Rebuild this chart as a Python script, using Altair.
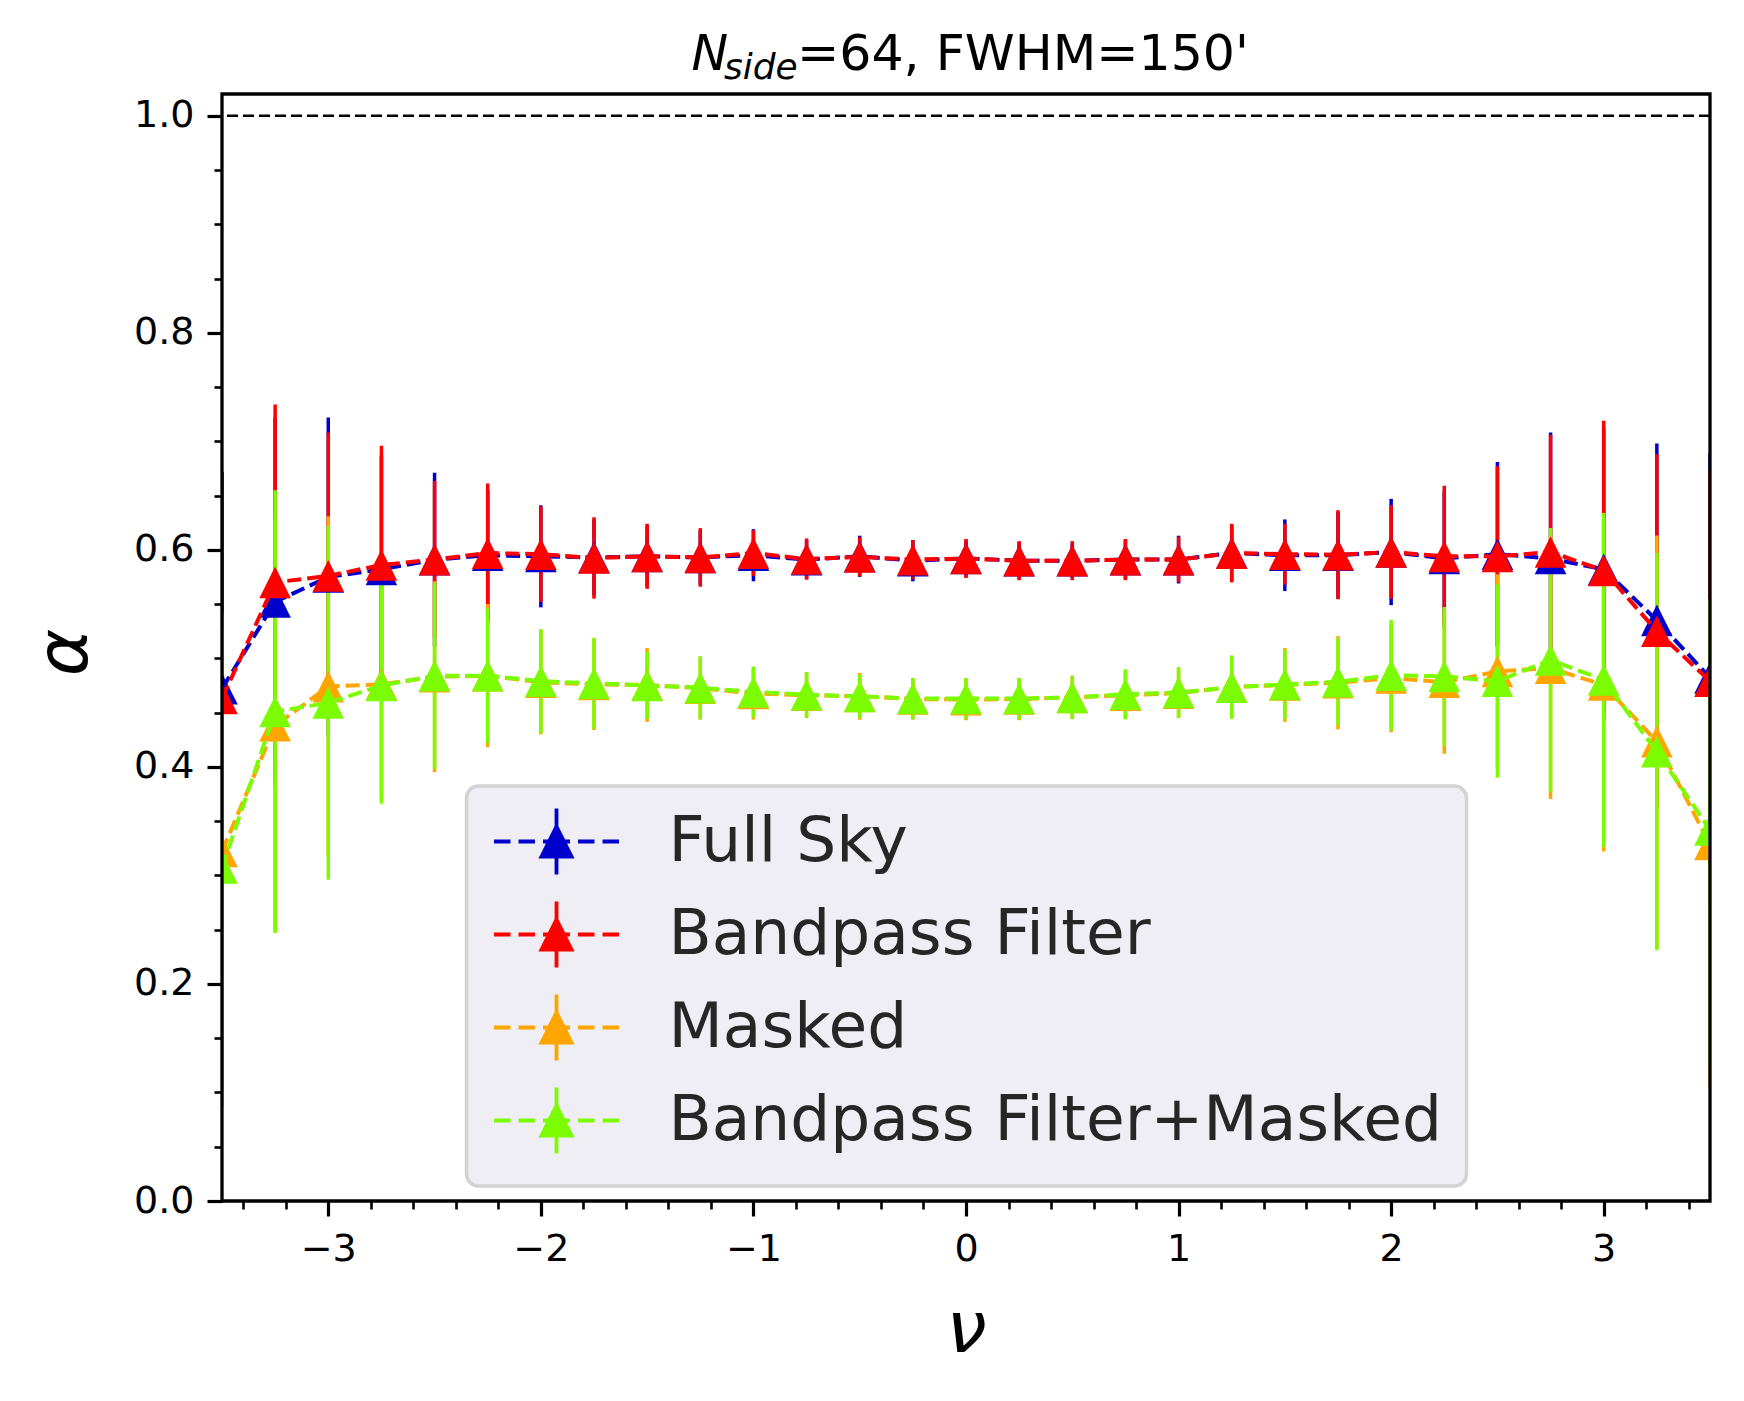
import altair as alt
import pandas as pd

# ---------------- data ----------------
nu = [-3.5, -3.25, -3.0, -2.75, -2.5, -2.25, -2.0, -1.75, -1.5, -1.25, -1.0, -0.75,
      -0.5, -0.25, 0.0, 0.25, 0.5, 0.75, 1.0, 1.25, 1.5, 1.75, 2.0, 2.25, 2.5, 2.75,
      3.0, 3.25, 3.5]

full_sky = [0.472, 0.552, 0.575, 0.582, 0.591, 0.595, 0.594, 0.593, 0.594, 0.593,
            0.595, 0.591, 0.594, 0.590, 0.592, 0.590, 0.590, 0.591, 0.591, 0.597,
            0.595, 0.595, 0.598, 0.592, 0.596, 0.592, 0.582, 0.535, 0.482]
full_sky_err = [0.200, 0.170, 0.147, 0.105, 0.080, 0.060, 0.047, 0.035, 0.028, 0.025,
                0.024, 0.018, 0.019, 0.019, 0.017, 0.017, 0.016, 0.018, 0.022, 0.026,
                0.033, 0.040, 0.049, 0.062, 0.085, 0.116, 0.130, 0.163, 0.207]

bandpass = [0.463, 0.570, 0.576, 0.586, 0.591, 0.597, 0.596, 0.5925, 0.594, 0.593,
            0.597, 0.5915, 0.5935, 0.591, 0.592, 0.590, 0.590, 0.591, 0.591, 0.597,
            0.596, 0.5955, 0.598, 0.594, 0.594, 0.598, 0.581, 0.525, 0.479]
bandpass_err = [0.190, 0.164, 0.132, 0.110, 0.0725, 0.064, 0.044, 0.0375, 0.030, 0.027,
                0.021, 0.019, 0.018, 0.018, 0.018, 0.018, 0.018, 0.019, 0.021, 0.027,
                0.028, 0.041, 0.043, 0.065, 0.083, 0.108, 0.138, 0.163, 0.195]

masked = [0.322, 0.438, 0.474, 0.476, 0.483, 0.484, 0.478, 0.476, 0.4755, 0.4725,
          0.4676, 0.466, 0.465, 0.4625, 0.462, 0.4625, 0.464, 0.466, 0.468, 0.4735,
          0.4755, 0.4775, 0.482, 0.478, 0.488, 0.491, 0.4755, 0.4233, 0.3285]
masked_err = [0.220, 0.190, 0.157, 0.105, 0.088, 0.066, 0.048, 0.042, 0.034, 0.029,
              0.024, 0.021, 0.0215, 0.019, 0.019, 0.0195, 0.020, 0.022, 0.023, 0.029,
              0.034, 0.043, 0.050, 0.066, 0.0895, 0.1205, 0.1535, 0.190, 0.223]

bp_masked = [0.307, 0.451, 0.459, 0.475, 0.484, 0.484, 0.479, 0.477, 0.475, 0.473,
             0.469, 0.4665, 0.465, 0.463, 0.463, 0.463, 0.464, 0.467, 0.4685, 0.4734,
             0.476, 0.4785, 0.4845, 0.4834, 0.479, 0.4985, 0.480, 0.414, 0.342]
bp_masked_err = [0.220, 0.204, 0.163, 0.109, 0.086, 0.062, 0.048, 0.042, 0.031, 0.029,
                 0.0235, 0.021, 0.020, 0.019, 0.019, 0.019, 0.020, 0.023, 0.0235, 0.029,
                 0.032, 0.040, 0.051, 0.064, 0.089, 0.1215, 0.154, 0.183, 0.213]

series_names = ["Full Sky", "Bandpass Filter", "Masked", "Bandpass Filter+Masked"]
series_colors = ["#0000CD", "#FF0000", "#FFA500", "#7CFC00"]
series_values = [full_sky, bandpass, masked, bp_masked]
series_errors = [full_sky_err, bandpass_err, masked_err, bp_masked_err]

ref_level = [1.0]
title_parts = ["N", "side", "=64, FWHM=150'"]

x_major_ticks = [-3, -2, -1, 0, 1, 2, 3]
x_minor_ticks = [round(-3.4 + 0.2 * i, 1) for i in range(35)]
y_major_ticks = [0.0, 0.2, 0.4, 0.6, 0.8, 1.0]
y_minor_ticks = [round(0.05 * i, 2) for i in range(21)]

# ---------------- table ----------------
rows = []
for name, vals, errs in zip(series_names, series_values, series_errors):
    for xv, yv, ev in zip(nu, vals, errs):
        rows.append({"series": name, "nu": xv, "alpha": yv,
                     "lo": yv - ev, "hi": yv + ev})
df = pd.DataFrame(rows)

W, H = 1488, 1107
FONT = "DejaVu Sans"

cscale = alt.Scale(domain=series_names, range=series_colors)
xscale = alt.Scale(domain=[-3.5, 3.5], nice=False, zero=False)
yscale = alt.Scale(domain=[0, 1.02], nice=False, zero=False)

xaxis_major = alt.Axis(
    orient="bottom", values=x_major_ticks, grid=False, domain=False,
    labelExpr="replace(format(datum.value, 'd'), '-', '\u2212')",
    tickSize=15, tickWidth=3.2, tickColor="black",
    labelColor="black", labelFont=FONT, labelFontSize=38,
    labelPadding=14, labelOverlap=False, labelFlush=False,
    title="\u03bd", titleFont=FONT, titleFontStyle="italic", titleFontSize=72,
    titleFontWeight="normal", titleColor="black", titleBaseline="alphabetic",
    titleY=150, titleX=W / 2, titleAlign="center",
)
yaxis_major = alt.Axis(
    orient="left", values=y_major_ticks, grid=False, domain=False,
    format=".1f",
    tickSize=15, tickWidth=3.2, tickColor="black",
    labelColor="black", labelFont=FONT, labelFontSize=38,
    labelPadding=13, labelOverlap=False, labelFlush=False,
    title="\u03b1", titleFont=FONT, titleFontStyle="italic", titleFontSize=72,
    titleFontWeight="normal", titleColor="black", titleBaseline="alphabetic",
    titleX=-136, titleY=558, titleAlign="center",
)
xaxis_minor = alt.Axis(
    orient="bottom", values=x_minor_ticks, grid=False, domain=False,
    labels=False, title=None, tickSize=8, tickWidth=2.6, tickColor="black",
)
yaxis_minor = alt.Axis(
    orient="left", values=y_minor_ticks, grid=False, domain=False,
    labels=False, title=None, tickSize=8, tickWidth=2.6, tickColor="black",
)

# legend handle: dashed line + vertical error bar + triangle (unit = 15 px)
c = 2.3
segs = [(-4.167, -3.067), (-2.533, -1.433), (-0.9, 0.9), (1.433, 2.533), (3.067, 4.167)]
handle = "".join(f"M{c + a:.3f},0L{c + b:.3f},0" for a, b in segs)
handle += f"M{c:.3f},-2.2L{c:.3f},2.2"
handle += f"M{c:.3f},-1L{c + 1:.3f},1L{c - 1:.3f},1Z"

legend = alt.Legend(
    orient="none", legendX=244.5, legendY=692, title=None,
    labelFont=FONT, labelFontSize=63, labelColor="#262626", labelLimit=0,
    symbolType=handle, symbolSize=900, symbolStrokeWidth=3.8, symbolOpacity=1,
    labelOffset=115, padding=24, rowPadding=10,
    fillColor="#EEEEF4", strokeColor="#D3D3D3", cornerRadius=12,
)

TRI = "M0,-1L1,1L-1,1Z"

base = alt.Chart(df)
X0 = alt.X("nu:Q", scale=xscale, axis=None)
Y0 = alt.Y("alpha:Q", scale=yscale, axis=None)

# legend-only layer first (no rows drawn), so its legend settings win the merge
leg_layer = base.transform_filter(alt.datum.nu > 100).mark_point(
    filled=True, shape=handle, size=900, strokeWidth=3.8, opacity=1
).encode(
    x=X0, y=Y0,
    color=alt.Color("series:N", scale=cscale, legend=legend),
    stroke=alt.Stroke("series:N", scale=cscale, legend=legend),
)

ref = alt.Chart(pd.DataFrame({"ref": ref_level})).mark_rule(
    color="black", strokeDash=[11, 5], strokeWidth=2.5
).encode(y=alt.Y("ref:Q", scale=yscale, axis=None))

bars = base.mark_rule(strokeWidth=3.5, clip=True).encode(
    x=alt.X("nu:Q", scale=xscale, axis=xaxis_major),
    y=alt.Y("lo:Q", scale=yscale, axis=yaxis_major),
    y2="hi:Q",
    color=alt.Color("series:N", scale=cscale, legend=None),
)

layers = [leg_layer, ref, bars]
for i, name in enumerate(series_names):
    sub = base.transform_filter(alt.datum.series == name)
    if i == 0:
        xe = alt.X("nu:Q", scale=xscale, axis=xaxis_minor)
        ye = alt.Y("alpha:Q", scale=yscale, axis=yaxis_minor)
    else:
        xe, ye = X0, Y0
    line = sub.mark_line(strokeDash=[14, 6], strokeWidth=4, clip=True).encode(
        x=xe, y=ye,
        color=alt.Color("series:N", scale=cscale, legend=None),
    )
    pts = sub.mark_point(filled=True, shape=TRI, size=1000, opacity=1, clip=True,
                         strokeWidth=1).encode(
        x=X0, y=Y0,
        color=alt.Color("series:N", scale=cscale, legend=None),
    )
    layers += [line, pts]

# frame drawn over the data (matplotlib spines sit on top)
frame = alt.Chart(pd.DataFrame({"f": [0]})).mark_rect(
    fill=None, stroke="black", strokeWidth=3.3
).encode(x=alt.value(0), x2=alt.value(W), y=alt.value(0), y2=alt.value(H))
layers.append(frame)

title_df = pd.DataFrame({"t": title_parts})
t1 = alt.Chart(title_df).transform_filter(alt.datum.t == title_parts[0]).mark_text(
    align="left", baseline="alphabetic", font=FONT, fontSize=49,
    fontStyle="italic", color="black"
).encode(text="t:N", x=alt.value(469.5), y=alt.value(-24))
t2 = alt.Chart(title_df).transform_filter(alt.datum.t == title_parts[1]).mark_text(
    align="left", baseline="alphabetic", font=FONT, fontSize=36,
    fontStyle="italic", color="black"
).encode(text="t:N", x=alt.value(502), y=alt.value(-15))
t3 = alt.Chart(title_df).transform_filter(alt.datum.t == title_parts[2]).mark_text(
    align="left", baseline="alphabetic", font=FONT, fontSize=50.5, color="black"
).encode(text="t:N", x=alt.value(575), y=alt.value(-24))
layers += [t1, t2, t3]

chart = alt.layer(*layers).resolve_axis(
    x="independent", y="independent"
).properties(
    width=W, height=H,
    autosize=alt.AutoSizeParams(type="none"),
    padding={"left": 214, "top": 86, "right": 26, "bottom": 192},
    background="white",
).configure_view(
    stroke=None, fill="white"
).configure_legend(strokeWidth=3.5)

chart.save("out.html", embed_options={"renderer": "svg", "actions": False})
